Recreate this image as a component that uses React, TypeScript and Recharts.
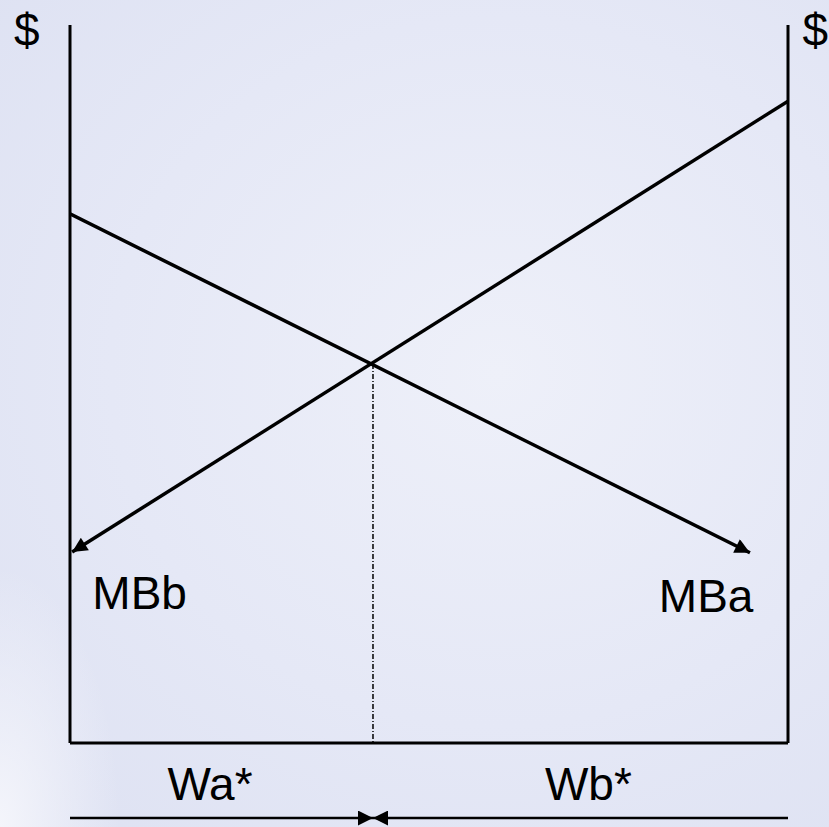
import { ComposedChart, Line, XAxis, YAxis, ReferenceLine, ReferenceDot } from "recharts";

// plot runs W from 0 to 100 between the two $ axes, $ from 0 to 100 up the side
const mbA = [
  { w: 0, v: 73.7 },
  { w: 94.7, v: 26.5 },
];
const mbB = [
  { w: 100, v: 89.4 },
  { w: 0.3, v: 26.6 },
];
const wStar = 42.2;
const pStar = 52.8;
const arrowRow = -10.45;

const labels = [
  { text: "$", w: -6.0, v: 97.1 },
  { text: "$", w: 103.8, v: 97.1 },
  { text: "MBb", w: 9.7, v: 18.7 },
  { text: "MBa", w: 88.6, v: 18.2 },
  { text: "Wa*", w: 19.5, v: -7.9 },
  { text: "Wb*", w: 72.2, v: -7.9 },
];

const FONT = "'Liberation Sans', Arial, sans-serif";

const TextAt = (text: string) => (props: any) => {
  const vb = props.viewBox || {};
  return (
    <text x={vb.x} y={vb.y} textAnchor="middle" fontSize={46} fontFamily={FONT} fill="#000">
      {text}
    </text>
  );
};

const axisStyle = { stroke: "#000", strokeWidth: 3 };

export default function App() {
  return (
    <div
      style={{
        position: "absolute",
        left: 0,
        top: 0,
        width: 829,
        height: 827,
        overflow: "hidden",
        background:
          "radial-gradient(ellipse 120px 260px at 0% 100%, #f4f5fb 0%, rgba(244,245,251,0) 100%), radial-gradient(ellipse at 60% 45%, #eef0f9 0%, #e5e8f6 55%, #dde1f2 100%)",
      }}
    >
      <ComposedChart width={829} height={827} margin={{ top: 25, right: 40, bottom: 83, left: 69 }}>
        <defs>
          <marker
            id="arrowBig"
            viewBox="0 0 10 10"
            refX={10}
            refY={5}
            markerUnits="userSpaceOnUse"
            markerWidth={19}
            markerHeight={15}
            orient="auto"
          >
            <path d="M0,0 L10,5 L0,10 z" fill="#000" />
          </marker>
          <marker
            id="arrowSmall"
            viewBox="0 0 10 10"
            refX={10}
            refY={5}
            markerUnits="userSpaceOnUse"
            markerWidth={16}
            markerHeight={15}
            orient="auto"
          >
            <path d="M0,0 L10,5 L0,10 z" fill="#000" />
          </marker>
        </defs>
        <XAxis
          type="number"
          dataKey="w"
          domain={[0, 100]}
          allowDataOverflow
          height={1}
          tick={false}
          tickLine={false}
          axisLine={axisStyle}
        />
        <YAxis
          yAxisId="left"
          type="number"
          dataKey="v"
          domain={[0, 100]}
          allowDataOverflow
          width={1}
          tick={false}
          tickLine={false}
          axisLine={axisStyle}
        />
        <YAxis
          yAxisId="right"
          orientation="right"
          type="number"
          domain={[0, 100]}
          allowDataOverflow
          width={1}
          tick={false}
          tickLine={false}
          axisLine={axisStyle}
        />
        <ReferenceLine
          yAxisId="left"
          segment={[
            { x: wStar, y: pStar },
            { x: wStar, y: 0 },
          ]}
          stroke="#000"
          strokeWidth={1.5}
          strokeDasharray="5 2 1 2"
        />
        <Line
          yAxisId="left"
          data={mbA}
          dataKey="v"
          type="linear"
          stroke="#000"
          strokeWidth={3.5}
          dot={false}
          activeDot={false}
          markerEnd="url(#arrowBig)"
          isAnimationActive={false}
        />
        <Line
          yAxisId="left"
          data={mbB}
          dataKey="v"
          type="linear"
          stroke="#000"
          strokeWidth={3.5}
          dot={false}
          activeDot={false}
          markerEnd="url(#arrowBig)"
          isAnimationActive={false}
        />
        <ReferenceLine
          yAxisId="left"
          ifOverflow="visible"
          segment={[
            { x: 0, y: arrowRow },
            { x: wStar, y: arrowRow },
          ]}
          stroke="#000"
          strokeWidth={2.5}
          markerEnd="url(#arrowSmall)"
        />
        <ReferenceLine
          yAxisId="left"
          ifOverflow="visible"
          segment={[
            { x: 100, y: arrowRow },
            { x: wStar, y: arrowRow },
          ]}
          stroke="#000"
          strokeWidth={2.5}
          markerEnd="url(#arrowSmall)"
        />
        {labels.map((l, i) => (
          <ReferenceDot
            key={i}
            yAxisId="left"
            x={l.w}
            y={l.v}
            r={0}
            fill="none"
            stroke="none"
            ifOverflow="visible"
            label={TextAt(l.text)}
          />
        ))}
      </ComposedChart>
    </div>
  );
}
